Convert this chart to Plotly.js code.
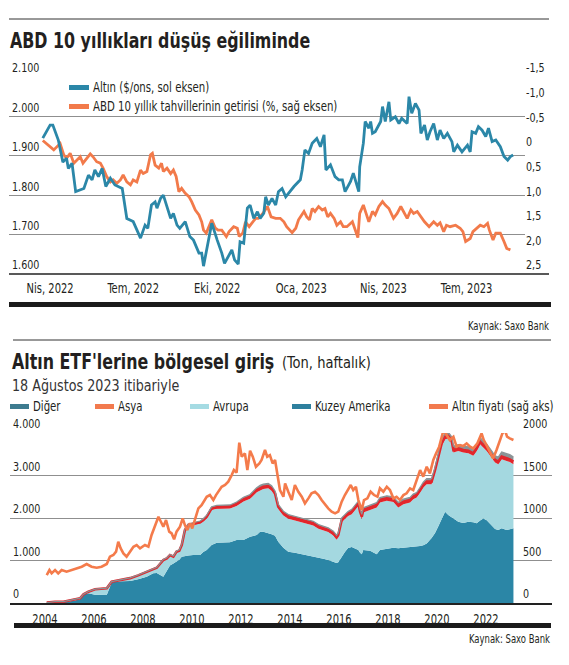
<!DOCTYPE html>
<html><head><meta charset="utf-8">
<script src="https://cdn.plot.ly/plotly-3.0.1.min.js"></script>
<style>html,body{margin:0;padding:0;background:#fff;}#chart{width:569px;height:665px;}</style>
</head><body><div id="chart"></div>
<script>
// ---------- Chart 1 data ----------
const goldDates = [
'2022-03-24','2022-04-01','2022-04-04','2022-04-10','2022-04-15','2022-04-19','2022-04-21','2022-04-25','2022-04-29',
'2022-05-08','2022-05-13','2022-05-17','2022-05-20','2022-05-24','2022-05-28',
'2022-06-01','2022-06-06','2022-06-11','2022-06-19','2022-06-24',
'2022-07-01','2022-07-05','2022-07-09','2022-07-14','2022-07-17','2022-07-21','2022-07-25','2022-07-27','2022-07-31',
'2022-08-03','2022-08-07','2022-08-11','2022-08-14','2022-08-18','2022-08-21','2022-08-27',
'2022-09-01','2022-09-05','2022-09-11','2022-09-14','2022-09-16','2022-09-22','2022-09-25',
'2022-10-01','2022-10-06','2022-10-09','2022-10-13','2022-10-17','2022-10-20','2022-10-24','2022-10-26','2022-10-30',
'2022-11-03','2022-11-06','2022-11-10','2022-11-14','2022-11-17','2022-11-21','2022-11-23','2022-11-26','2022-11-30',
'2022-12-04','2022-12-07','2022-12-11','2022-12-15','2022-12-18','2022-12-24','2022-12-31',
'2023-01-02','2023-01-05','2023-01-09','2023-01-13','2023-01-18','2023-01-22','2023-01-26','2023-01-28',
'2023-02-02','2023-02-07','2023-02-11','2023-02-15','2023-02-18','2023-02-24','2023-02-27',
'2023-03-05','2023-03-06','2023-03-10','2023-03-12','2023-03-16','2023-03-18','2023-03-20','2023-03-23','2023-03-29','2023-03-31',
'2023-04-03','2023-04-07','2023-04-09','2023-04-14','2023-04-18','2023-04-21','2023-04-27','2023-04-29',
'2023-05-02','2023-05-06','2023-05-10','2023-05-12','2023-05-16','2023-05-19','2023-05-22','2023-05-26','2023-05-30',
'2023-06-02','2023-06-06','2023-06-10','2023-06-15','2023-06-17','2023-06-21','2023-06-26',
'2023-07-02','2023-07-05','2023-07-07','2023-07-11','2023-07-14','2023-07-18','2023-07-22','2023-07-25','2023-07-29',
'2023-08-02','2023-08-07','2023-08-11','2023-08-15','2023-08-18','2023-08-21'];
const goldValues = [
1945,1978,1978,1940,1884,1894,1868,1881,1809,
1817,1851,1839,1864,1847,1868,
1822,1843,1826,1817,1741,
1733,1712,1691,1724,1716,1775,1783,1767,1792,
1800,1767,1741,1754,1724,1716,1733,
1695,1686,1653,1653,1620,1691,1729,
1686,1653,1627,1644,1661,1636,1625,1682,1678,
1767,1775,1741,1758,1741,1754,1796,1775,1792,
1775,1809,1817,1796,1805,1822,1839,
1864,1915,1906,1932,1944,1923,1953,1864,
1877,1847,1839,1839,1809,1835,1856,
1809,1872,1932,1987,1970,1987,1957,1961,1987,2025,
1987,2037,1991,1999,1982,1995,1982,2050,
2008,2033,2016,1957,1978,1940,1961,1982,1940,
1965,1944,1957,1936,1910,1927,1910,
1927,1910,1961,1957,1974,1965,1949,1970,1936,
1940,1923,1898,1889,1898,1902];

const yieldDates = [
'2022-03-24','2022-03-30','2022-04-05','2022-04-12','2022-04-16','2022-04-19','2022-04-23','2022-04-27','2022-04-30',
'2022-05-04','2022-05-07','2022-05-11','2022-05-15','2022-05-18','2022-05-22','2022-05-26','2022-05-29',
'2022-06-02','2022-06-06','2022-06-09','2022-06-13','2022-06-17','2022-06-20','2022-06-24','2022-06-28',
'2022-07-01','2022-07-05','2022-07-09','2022-07-12','2022-07-16','2022-07-20','2022-07-22','2022-07-25','2022-07-29',
'2022-08-01','2022-08-03','2022-08-07','2022-08-11','2022-08-14','2022-08-17','2022-08-20','2022-08-23','2022-08-27','2022-08-31',
'2022-09-03','2022-09-07','2022-09-11','2022-09-14','2022-09-16','2022-09-19','2022-09-22','2022-09-25','2022-09-29',
'2022-10-02','2022-10-06','2022-10-11','2022-10-14','2022-10-19','2022-10-23','2022-10-25','2022-10-29',
'2022-11-01','2022-11-05','2022-11-12','2022-11-15','2022-11-20','2022-11-25','2022-11-29',
'2022-12-04','2022-12-09','2022-12-13','2022-12-16','2022-12-22','2022-12-26','2022-12-29',
'2023-01-04','2023-01-07','2023-01-10','2023-01-13','2023-01-16','2023-01-20','2023-01-24','2023-01-27','2023-01-30',
'2023-02-02','2023-02-06','2023-02-09','2023-02-13','2023-02-16','2023-02-20','2023-02-26',
'2023-03-01','2023-03-04','2023-03-06','2023-03-10','2023-03-13','2023-03-16','2023-03-20','2023-03-23','2023-03-27','2023-03-31',
'2023-04-03','2023-04-07','2023-04-12','2023-04-16','2023-04-20','2023-04-23','2023-04-27',
'2023-05-01','2023-05-04','2023-05-08','2023-05-12','2023-05-16','2023-05-21','2023-05-26','2023-05-30',
'2023-06-02','2023-06-06','2023-06-09','2023-06-13','2023-06-19','2023-06-24','2023-06-27','2023-06-30',
'2023-07-05','2023-07-08','2023-07-13','2023-07-16','2023-07-20','2023-07-24','2023-07-26','2023-07-30',
'2023-08-02','2023-08-07','2023-08-11','2023-08-14','2023-08-18'];
const yieldValues = [
-0.21,-0.12,-0.02,-0.15,0.08,0.15,0.05,0.25,0.19,
0.12,0.25,0.15,0.06,0.12,0.22,0.25,0.35,
0.52,0.63,0.59,0.66,0.59,0.49,0.63,0.69,
0.59,0.63,0.39,0.46,0.42,0.08,0.05,0.29,0.35,
0.25,0.42,0.35,0.46,0.39,0.52,0.83,0.76,0.86,0.93,
1.03,1.20,1.30,1.44,1.61,1.67,1.54,1.40,1.57,
1.61,1.61,1.74,1.64,1.54,1.57,1.74,1.67,
1.44,1.54,1.37,1.37,1.27,1.13,1.34,
1.37,1.37,1.44,1.54,1.66,1.57,1.40,
1.23,1.34,1.40,1.17,1.23,1.13,1.20,1.17,1.34,
1.27,1.37,1.51,1.44,1.54,1.54,1.44,
1.61,1.76,1.27,1.10,1.27,1.44,1.23,1.30,1.13,1.03,
1.10,1.17,1.37,1.27,1.13,1.23,1.37,
1.20,1.27,1.23,1.34,1.44,1.54,1.44,1.51,
1.46,1.64,1.51,1.54,1.51,1.57,1.64,1.84,
1.78,1.64,1.57,1.51,1.54,1.47,1.61,1.81,
1.67,1.67,1.84,1.98,2.01];

const leftTicks1 = [1600,1700,1800,1900,2000,2100];
const rightTicks1 = [-1.5,-1,-0.5,0,0.5,1,1.5,2,2.5];
const rightLabels1 = ['-1,5','-1,0','-0,5','0','0,5','1,0','1,5','2,0','2,5'];
const monthTicks = ['2022-04-01','2022-07-01','2022-10-01','2023-01-01','2023-04-01','2023-07-01'];
const monthLabels = ['Nis, 2022','Tem, 2022','Eki, 2022','Oca, 2023','Nis, 2023','Tem, 2023'];

// ---------- Chart 2 data ----------
const etfYears = [2004.07,2004.41,2004.75,2005.16,2005.43,2005.57,2005.77,2006.04,2006.52,2006.72,
2006.86,2007.13,2007.47,2007.80,2008.15,2008.42,2008.56,2008.83,2008.97,2009.10,
2009.24,2009.37,2009.48,2009.58,2009.71,2009.85,2010.05,2010.33,2010.46,2010.60,
2010.80,2011.01,2011.55,2011.82,2012.10,2012.37,2012.64,2012.78,2012.91,2013.11,
2013.25,2013.39,2013.52,2013.73,2013.93,2014.20,2014.48,2014.75,2014.95,2015.16,
2015.36,2015.56,2015.77,2015.90,2015.97,2016.11,2016.24,2016.37,2016.52,2016.79,
2016.86,2016.93,2016.99,2017.27,2017.54,2017.67,2017.95,2018.22,2018.42,2018.63,
2018.90,2019.03,2019.17,2019.31,2019.44,2019.58,2019.78,2019.92,2020.05,2020.19,
2020.33,2020.46,2020.60,2020.67,2020.87,2021.07,2021.28,2021.48,2021.62,2021.76,
2021.89,2022.03,2022.23,2022.37,2022.50,2022.64,2022.84,2022.97,2023.12];
const kuzeyAmerika = [5,15,20,55,90,200,227,195,188,480,
500,510,518,560,620,698,705,620,760,880,
930,973,1020,1090,1110,1120,1129,1129,1200,1247,
1365,1420,1430,1482,1482,1561,1600,1678,1678,1650,
1620,1580,1443,1300,1208,1180,1150,1110,1090,1060,
1040,1010,972,941,960,1100,1200,1294,1320,1250,
1180,1150,1250,1230,1150,1250,1280,1300,1290,1300,
1310,1320,1320,1340,1360,1400,1530,1650,1800,1980,
2149,2070,2020,1990,1914,1880,1914,1900,1875,1940,
1990,1950,1830,1740,1720,1757,1718,1740,1757];
const avrupa = [2,14,9,14,17,2,37,123,153,16,
13,42,62,84,111,84,117,382,281,237,
148,220,196,255,583,690,700,741,718,749,
822,795,792,803,907,891,1004,977,1004,1048,
1023,945,774,760,773,762,753,754,735,686,
667,658,617,554,590,798,776,751,769,1035,
909,821,878,961,1096,1114,1123,1079,956,1024,
1054,1122,1161,1259,1357,1395,1265,1419,1544,1717,
1705,1800,1740,1550,1665,1660,1610,1562,1704,1796,
1668,1629,1592,1565,1545,1626,1626,1580,1508];
const asya = [1,2,2,2,3,3,3,4,4,4,
5,5,5,6,6,8,8,10,10,12,
12,15,15,20,25,25,30,30,35,35,
40,40,45,45,50,50,55,55,55,55,
55,55,50,50,50,50,50,50,50,50,
50,50,50,50,50,55,55,55,60,60,
60,60,60,60,60,60,60,60,60,60,
60,60,60,60,60,60,60,60,60,60,
60,60,60,60,60,60,60,60,60,60,
60,60,60,60,60,60,60,60,60];
const diger = [0,2,2,3,3,3,3,5,5,5,
5,6,6,8,10,10,10,12,12,15,
15,18,20,20,25,25,30,30,30,35,
35,40,40,45,50,50,55,60,60,60,
60,55,55,50,50,50,50,50,50,50,
50,50,50,50,50,50,50,55,55,55,
55,55,55,55,55,55,60,60,60,60,
60,60,60,65,65,70,70,75,80,85,
90,90,90,90,90,90,90,90,95,95,
95,100,100,100,110,110,110,110,110];

const fiyatYears = [
2004.07,2004.18,2004.27,2004.41,2004.54,2004.68,2004.88,
2005.09,2005.29,2005.50,2005.70,2005.90,
2006.11,2006.31,2006.52,2006.65,2006.79,2006.90,2006.99,
2007.09,2007.20,2007.33,2007.47,2007.61,2007.74,2007.88,
2008.08,2008.22,2008.35,2008.49,2008.63,2008.73,2008.83,2008.94,
2009.07,2009.17,2009.27,2009.37,2009.51,2009.62,2009.71,2009.81,2009.92,
2010.01,2010.12,2010.26,2010.39,2010.49,2010.60,2010.73,2010.87,2010.98,
2011.07,2011.21,2011.35,2011.48,2011.62,2011.71,2011.82,2011.93,
2012.03,2012.16,2012.26,2012.37,2012.48,2012.61,2012.75,2012.84,2012.98,
2013.07,2013.18,2013.29,2013.39,2013.48,2013.59,2013.73,2013.80,2013.93,
2014.07,2014.20,2014.34,2014.48,2014.61,2014.75,2014.88,
2015.02,2015.16,2015.29,2015.43,2015.56,2015.70,2015.84,2015.97,
2016.11,2016.24,2016.38,2016.48,2016.58,2016.69,2016.79,2016.93,
2017.02,2017.16,2017.29,2017.43,2017.57,2017.67,2017.81,2017.95,
2018.08,2018.22,2018.35,2018.49,2018.63,2018.76,2018.90,
2019.03,2019.17,2019.31,2019.44,2019.58,2019.71,2019.85,2019.96,
2020.09,2020.23,2020.30,2020.39,2020.52,2020.67,2020.80,2020.94,
2021.07,2021.21,2021.35,2021.48,2021.65,2021.82,2021.91,
2022.02,2022.16,2022.29,2022.43,2022.57,2022.67,2022.77,2022.86,2022.97,
2023.12];
const altinFiyati = [
329,388,349,388,349,388,368,
388,408,427,459,427,
415,427,459,545,565,604,721,
643,584,545,604,662,682,643,
682,662,800,897,1015,956,897,976,
839,819,749,839,897,996,917,858,937,
878,976,1113,1152,1192,1250,1270,1211,1270,
1309,1368,1388,1427,1505,1564,1533,1886,
1721,1760,1564,1792,1721,1603,1642,1682,1800,
1721,1740,1642,1682,1505,1329,1250,1407,1309,
1211,1388,1309,1250,1172,1231,1290,
1309,1270,1211,1152,1113,1074,1054,1074,
1192,1270,1349,1388,1329,1368,1211,1094,
1211,1231,1309,1270,1250,1349,1309,1368,
1329,1231,1250,1211,1270,1290,1349,
1329,1446,1564,1486,1603,1525,1682,1760,
1839,1995,2035,1976,1917,1956,1839,1858,
1846,1878,1839,1819,1878,1995,1917,
1858,1780,1701,1800,1917,1995,2035,1956,1937,
1917];
const yearTicks = [2004,2006,2008,2010,2012,2014,2016,2018,2020,2022];
const leftTicks2 = [0,1000,2000,3000,4000];
const rightTicks2 = [0,500,1000,1500,2000];

// ---------- helpers ----------
const W = 569, H = 665;
const px = v => v / W;
const py = v => 1 - v / H;
const FONT = 'DejaVu Sans Condensed, DejaVu Sans, sans-serif';
const TXT = '#231f20';
const GRID = '#8f8f8f';
const BLUE = '#2b87a8', ORANGE = '#f27a4a';

const traces = [
  {x: yieldDates, y: yieldValues, xaxis: 'x', yaxis: 'y', mode: 'lines',
   line: {color: ORANGE, width: 2.8}, hoverinfo: 'skip'},
  {x: goldDates, y: goldValues, xaxis: 'x', yaxis: 'y3', mode: 'lines',
   line: {color: BLUE, width: 2.8}, hoverinfo: 'skip'},
  {x: etfYears, y: kuzeyAmerika, xaxis: 'x2', yaxis: 'y2', mode: 'lines', stackgroup: 'etf',
   fillcolor: '#2b86a6', line: {color: '#2b86a6', width: 0}, hoverinfo: 'skip'},
  {x: etfYears, y: avrupa, xaxis: 'x2', yaxis: 'y2', mode: 'lines', stackgroup: 'etf',
   fillcolor: '#a4d8e0', line: {color: '#a4d8e0', width: 0}, hoverinfo: 'skip'},
  {x: etfYears, y: asya, xaxis: 'x2', yaxis: 'y2', mode: 'lines', stackgroup: 'etf',
   fillcolor: '#e2262c', line: {color: '#e2262c', width: 2.6}, hoverinfo: 'skip'},
  {x: etfYears, y: diger, xaxis: 'x2', yaxis: 'y2', mode: 'lines', stackgroup: 'etf',
   fillcolor: '#8b9497', line: {color: '#8b9497', width: 1.2}, hoverinfo: 'skip'},
  {x: fiyatYears, y: altinFiyati, xaxis: 'x2', yaxis: 'y4', mode: 'lines',
   line: {color: '#f47b4b', width: 2.6}, hoverinfo: 'skip'}
];

const tickFont = {family: FONT, size: 13, color: TXT};
const xTickFont = {family: FONT, size: 13.5, color: TXT};

const layout = {
  width: W, height: H, margin: {l: 0, r: 0, t: 0, b: 0},
  paper_bgcolor: '#fff', plot_bgcolor: 'rgba(0,0,0,0)',
  showlegend: false, separators: ',.',
  font: {family: FONT, color: TXT},
  xaxis: {domain: [px(9), px(525)], anchor: 'y', type: 'date',
    range: ['2022-02-15', '2023-09-03'], tickmode: 'array', tickvals: monthTicks, ticktext: monthLabels,
    showgrid: false, zeroline: false, showline: false, ticks: '', ticklabelstandoff: 5,
    tickfont: xTickFont, fixedrange: true},
  yaxis: {domain: [py(274), py(77)], anchor: 'x', side: 'right', range: [2.5, -1.5],
    tickmode: 'array', tickvals: rightTicks1, ticktext: rightLabels1,
    showgrid: false, zeroline: false, showline: false, ticks: '',
    ticklabelposition: 'outside top', tickfont: tickFont, fixedrange: true},
  yaxis3: {overlaying: 'y', anchor: 'x', side: 'left', range: [1600, 2100],
    tickmode: 'array', tickvals: leftTicks1, separatethousands: true,
    showgrid: true, gridcolor: GRID, gridwidth: 1, zeroline: false, showline: false, ticks: '',
    ticklabelposition: 'inside top', ticklabeloverflow: 'allow', tickfont: tickFont, fixedrange: true},
  xaxis2: {domain: [px(10), px(552)], anchor: 'y2', range: [2002.571, 2024.694],
    tickmode: 'array', tickvals: yearTicks, showgrid: false, zeroline: false,
    showline: true, linecolor: '#222', linewidth: 1.5, ticks: '', ticklabelstandoff: 3,
    tickfont: xTickFont, fixedrange: true},
  yaxis2: {domain: [py(603), py(433)], anchor: 'x2', range: [0, 4000],
    tickmode: 'array', tickvals: leftTicks2, separatethousands: true,
    showgrid: true, gridcolor: GRID, gridwidth: 1, zeroline: false, showline: false, ticks: '',
    ticklabelposition: 'inside top', ticklabeloverflow: 'allow', tickfont: tickFont, fixedrange: true},
  yaxis4: {overlaying: 'y2', anchor: 'free', position: px(522), side: 'right', range: [0, 2000],
    tickmode: 'array', tickvals: rightTicks2, showgrid: false, zeroline: false, showline: false, ticks: '',
    ticklabelposition: 'outside top', tickfont: tickFont, fixedrange: true},
  shapes: [],
  annotations: []
};

function hline(x0, x1, y, color, width) {
  layout.shapes.push({type: 'line', xref: 'paper', yref: 'paper', x0: px(x0), x1: px(x1), y0: py(y), y1: py(y),
    line: {color: color, width: width}});
}
function box(x0, x1, y0, y1, color) {
  layout.shapes.push({type: 'rect', xref: 'paper', yref: 'paper', x0: px(x0), x1: px(x1), y0: py(y1), y1: py(y0),
    fillcolor: color, line: {width: 0}});
}
function label(text, x, y, size, opts) {
  opts = opts || {};
  const anchor = opts.anchor || 'left';
  layout.annotations.push({text: text, xref: 'paper', yref: 'paper', x: px(x), y: py(y),
    xanchor: anchor, align: anchor, yanchor: 'middle', showarrow: false, borderpad: 0,
    font: {family: FONT, size: size, color: opts.color || TXT}});
}

// chart 1 frame
hline(9, 549, 19, '#333', 1);
hline(9, 549, 274, '#222', 1.5);
box(9, 551, 302, 307, '#1b1b1b');
label('<b>ABD 10 yıllıkları düşüş eğiliminde</b>', 9, 41, 21.5);
box(69, 89, 85, 90, BLUE);
label('Altın ($/ons, sol eksen)', 92, 87.5, 13.8);
box(69, 89, 104, 109, ORANGE);
label('ABD 10 yıllık tahvillerinin getirisi (%, sağ eksen)', 92, 106.5, 13.8);
label('Kaynak: Saxo Bank', 550, 326, 11.5, {anchor: 'right'});

// chart 2 frame
hline(13, 551, 340, '#333', 1);
box(14, 551, 623, 628, '#1b1b1b');
label("<b>Altın ETF'lerine bölgesel giriş</b>", 11, 362, 21.5);
label('(Ton, haftalık)', 281, 363, 15.3);
label('18 Ağustos 2023 itibariyle', 11, 386, 15.4, {color: '#333'});
const legend2 = [
  ['Diğer', 10, '#3d7b8f'], ['Asya', 95, '#f27a4e'], ['Avrupa', 190, '#a5dbe3'],
  ['Kuzey Amerika', 292, '#2e809e'], ['Altın fiyatı (sağ aks)', 429, '#f27a4e']];
legend2.forEach(function (it) {
  box(it[1], it[1] + 19, 404, 409, it[2]);
  label(it[0], it[1] + 22, 406.5, 13.8);
});
label('Kaynak: Saxo Bank', 551, 639, 11.5, {anchor: 'right'});

// narrow the letterforms (horizontal scale about each text's anchor) to imitate the condensed typeface
const squeeze = {'18 Ağustos 2023 itibariyle': 0.92, '(Ton, haftalık)': 0.95};
Plotly.newPlot('chart', traces, layout, {staticPlot: true, displayModeBar: false}).then(function () {
  document.querySelectorAll('#chart svg text').forEach(function (t) {
    const s = t.textContent;
    if (!s) return;
    const f = squeeze[s] || 0.82;
    const ax = parseFloat(t.getAttribute('x')) || 0;
    const prev = t.getAttribute('transform') || '';
    t.setAttribute('transform', (prev + ' translate(' + ax + ',0) scale(' + f + ',1) translate(' + (-ax) + ',0)').trim());
    t.setAttribute('data-f', f);
    t.setAttribute('data-ax', ax);
  });
  // shrink each annotation's invisible background box to the narrowed text
  document.querySelectorAll('#chart g.annotation').forEach(function (g) {
    const t = g.querySelector('text');
    const r = g.querySelector('rect.bg');
    if (!t || !r) return;
    const f = parseFloat(t.getAttribute('data-f')), ax = parseFloat(t.getAttribute('data-ax'));
    const bb = t.getBBox();
    r.setAttribute('x', (ax + (bb.x - ax) * f).toFixed(2));
    r.setAttribute('width', (bb.width * f).toFixed(2));
  });
});
</script>
</body></html>
